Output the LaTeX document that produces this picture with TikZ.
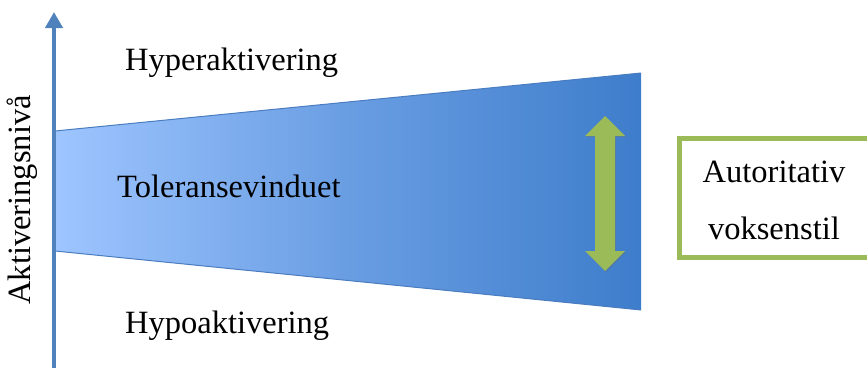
\documentclass[tikz,border=0pt]{standalone}
\usepackage{fontspec}
\setmainfont{Liberation Serif}
\usetikzlibrary{arrows.meta,shadows}
\definecolor{axisblue}{HTML}{4F81BD}
\definecolor{lightblue}{HTML}{9EC5FF}
\definecolor{darkblue}{HTML}{3E7DCB}
\definecolor{edgeblue}{HTML}{4A7CC0}
\definecolor{olive}{HTML}{9BBB59}
\tikzset{
  lbl/.style={font=\fontsize{32.5}{38}\selectfont, inner sep=0pt, text=black},
  axisline/.style={draw=axisblue, line width=4pt, -{Triangle[width=17pt,length=16pt]}},
  greenbox/.style={draw=olive, line width=5pt, fill=white},
}
\begin{document}
\begin{tikzpicture}[x=1pt,y=-1pt]
\useasboundingbox (0,0) rectangle (867,367);
% tolerance window
\shade[left color=lightblue, right color=darkblue, middle color=darkblue!55!lightblue] (55,131) -- (641,73) -- (641,310) -- (55,251) -- cycle;
\draw[edgeblue, line width=1pt] (55,131) -- (641,73);
\draw[edgeblue, line width=1pt] (55,251) -- (641,310);
% axis
\coordinate (axbot) at (54,370);
\coordinate (axtop) at (54,12);
\draw[axisline] (axbot) -- (axtop);
\node[lbl, rotate=90] (ylab) at (22,200) {Aktiveringsnivå};
% labels
\node[lbl, anchor=west] (hyper) at (125,63) {Hyperaktivering};
\node[lbl, anchor=west] (tol) at (117,186) {Toleransevinduet};
\node[lbl, anchor=west] (hypo) at (125,326) {Hypoaktivering};
% green double arrow
\fill[olive, drop shadow={shadow xshift=1pt, shadow yshift=-1pt, opacity=0.35, fill=black!60}]
  (605,116) -- (625,136) -- (615,136) -- (615,251) -- (625,251) -- (605,271)
  -- (585,251) -- (595,251) -- (595,136) -- (585,136) -- cycle;
% box
\draw[greenbox] (679,138) rectangle (872,257);
\node[lbl] (b1) at (774,172) {Autoritativ};
\node[lbl] (b2) at (774,228) {voksenstil};
\end{tikzpicture}
\end{document}
